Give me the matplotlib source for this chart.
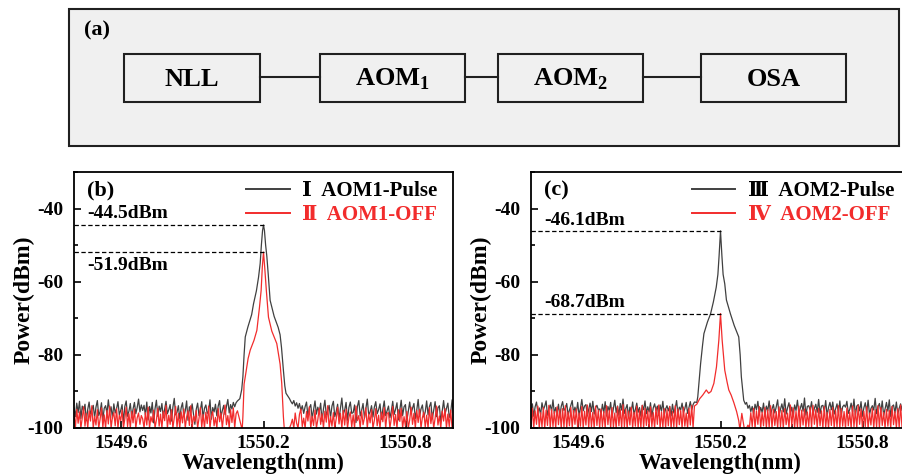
import numpy as np
import matplotlib
matplotlib.use("Agg")
import matplotlib.pyplot as plt
import matplotlib.ticker as ticker
from matplotlib.patches import Rectangle
from matplotlib.lines import Line2D

plt.rcParams["font.family"] = ["Liberation Serif", "DejaVu Serif"]
plt.rcParams["font.weight"] = "bold"
plt.rcParams["axes.labelweight"] = "bold"
plt.rcParams["axes.unicode_minus"] = False
plt.rcParams["mathtext.fontset"] = "custom"
plt.rcParams["mathtext.rm"] = "Liberation Serif:bold"
plt.rcParams["mathtext.bf"] = "Liberation Serif:bold"

BLACK = "#404040"
RED = "#f22c2c"

# OSA traces: noise floor on an even sample grid either side of the line,
# plus hand-read points across the peak itself
LEFT_SPAN = (1549.40, 1550.09)
RIGHT_SPAN = (1550.31, 1551.02)

# ---- (b) AOM1 ----
b_pulse_left = [
    -94.5, -96.9, -93.2, -95.8, -92.7, -97.4, -94.0, -95.3, -93.5, -98.0,
    -94.9, -92.9, -96.2, -95.0, -93.8, -97.1, -94.3, -92.5, -96.6, -95.5,
    -93.1, -97.8, -94.6, -93.9, -96.0, -92.3, -95.7, -94.2, -97.3, -93.4,
    -95.9, -94.7, -92.8, -96.4, -95.2, -93.6, -98.4, -94.1, -92.6, -96.8,
    -95.4, -93.3, -97.0, -94.8, -93.0, -96.1, -94.4, -92.1, -95.6, -93.7,
    -95.2, -93.8, -96.5, -92.9, -97.8, -94.1, -95.9, -93.0, -98.6, -94.7,
    -92.4, -96.8, -94.0, -95.5, -93.3, -97.2, -94.8, -92.7, -96.1, -95.0,
    -93.6, -98.1, -94.3, -91.9, -96.4, -95.7, -93.9, -97.5, -94.5, -93.1,
    -96.9, -95.3, -92.6, -97.9, -94.2, -95.8, -93.4, -96.2, -99.0, -94.9,
    -93.2, -96.6, -95.1, -92.8, -97.3, -94.6, -93.7, -96.0, -95.4, -92.3,
    -97.6, -94.4, -95.6, -93.5, -96.7, -94.0, -92.5, -97.0, -95.2, -93.8,
    -96.3, -94.1, -92.2, -95.9, -93.6, -94.8, -93.0, -94.2, -93.1, -92.6]
b_pulse_peak_wl = [1550.100, 1550.108, 1550.113, 1550.118, 1550.123, 1550.134,
                   1550.150, 1550.158, 1550.170, 1550.179, 1550.186, 1550.191,
                   1550.196, 1550.200, 1550.204, 1550.209, 1550.214, 1550.220,
                   1550.228, 1550.245, 1550.262, 1550.270, 1550.276, 1550.281,
                   1550.284, 1550.290, 1550.295, 1550.305]
b_pulse_peak = [-92.0, -89.5, -86.0, -80.0, -75.1, -72.4, -69.0, -66.0, -62.5,
                -58.8, -55.0, -50.0, -46.0, -44.5, -46.0, -50.0, -53.0, -58.0,
                -65.1, -69.5, -72.5, -74.5, -78.0, -82.0, -84.2, -88.5, -90.5,
                -91.5]
b_pulse_right = [
    -92.0, -92.8, -93.4, -92.5, -94.0, -93.1, -94.6, -93.3, -95.2, -93.9,
    -96.0, -94.2, -92.9, -96.8, -94.5, -93.6, -97.4, -95.0, -92.6, -96.2,
    -94.3, -95.7, -93.2, -98.2, -94.8, -92.4, -96.5, -95.3, -93.8, -97.1,
    -94.0, -92.7, -96.9, -95.5, -93.5, -97.7, -94.6, -91.8, -96.3, -95.1,
    -93.0, -97.9, -94.4, -92.9, -96.0, -95.8, -93.7, -98.5, -94.1, -92.5,
    -96.7, -95.2, -93.3, -97.3, -94.7, -92.1, -96.4, -95.6, -93.9, -97.0,
    -94.3, -92.8, -96.1, -95.0, -93.4, -97.6, -94.9, -92.6, -96.6, -95.3,
    -94.0, -97.2, -95.4, -92.7, -96.3, -94.9, -93.1, -97.8, -95.0, -92.4,
    -96.6, -94.2, -93.6, -98.0, -95.5, -92.9, -96.1, -94.6, -93.3, -97.4,
    -95.1, -92.2, -96.8, -94.8, -93.7, -97.0, -95.6, -92.6, -96.4, -94.1,
    -93.0, -97.5, -95.2, -92.8, -96.9, -94.5, -93.9, -98.3, -95.3, -92.5,
    -96.2, -94.7, -93.2, -97.1, -95.8, -92.3, -96.5, -94.4, -93.5, -97.7]

b_off_left = [
    -96.2, -100.0, -94.9, -98.7, -95.6, -100.0, -97.3, -94.2, -99.5, -96.0,
    -100.0, -95.3, -98.1, -93.9, -100.0, -96.8, -99.2, -95.0, -100.0, -97.6,
    -94.5, -99.8, -96.4, -100.0, -95.2, -98.9, -94.0, -100.0, -97.0, -95.8,
    -99.4, -94.7, -100.0, -96.5, -98.0, -95.1, -100.0, -97.5, -94.3, -99.6,
    -96.1, -100.0, -95.5, -98.6, -94.8, -100.0, -97.2, -95.9, -99.0, -96.6,
    -97.5, -100.0, -95.8, -99.2, -94.3, -100.0, -96.9, -98.4, -95.1, -100.0,
    -97.8, -94.6, -99.5, -96.2, -100.0, -95.4, -98.0, -93.8, -100.0, -96.5,
    -99.0, -95.0, -100.0, -97.2, -94.1, -99.7, -96.0, -100.0, -95.6, -98.6,
    -94.8, -100.0, -97.0, -95.3, -99.3, -93.9, -100.0, -96.7, -98.2, -95.2,
    -100.0, -97.4, -94.4, -99.8, -96.3, -100.0, -95.7, -98.8, -94.0, -100.0,
    -96.8, -95.5, -99.4, -97.1, -100.0, -94.7, -98.3, -95.9, -100.0, -96.4,
    -93.7, -99.1, -96.6, -100.0, -95.0, -98.5, -94.5, -100.0, -96.1, -95.3]
b_off_peak_wl = [1550.110, 1550.113, 1550.118, 1550.123, 1550.135, 1550.144,
                 1550.160, 1550.172, 1550.183, 1550.190, 1550.195, 1550.200,
                 1550.205, 1550.212, 1550.221, 1550.235, 1550.256, 1550.270,
                 1550.277, 1550.284, 1550.288]
b_off_peak = [-100.5, -96.9, -88.0, -86.0, -81.0, -78.7, -76.0, -73.3, -67.0,
              -62.4, -56.0, -51.9, -56.0, -62.4, -69.7, -73.5, -76.9, -82.5,
              -87.8, -96.9, -100.5]
b_off_right = [
    -100.0, -99.0, -97.6, -100.0, -95.9, -98.7, -100.0, -96.3, -94.8, -99.6,
    -97.3, -100.0, -95.5, -98.1, -94.2, -100.0, -96.8, -99.3, -95.1, -100.0,
    -97.7, -94.6, -99.0, -96.1, -100.0, -95.4, -98.4, -93.9, -100.0, -96.9,
    -99.5, -95.8, -100.0, -97.5, -94.3, -98.9, -96.0, -100.0, -95.2, -99.2,
    -94.9, -100.0, -97.1, -95.6, -99.7, -96.4, -100.0, -94.0, -98.0, -96.6,
    -100.0, -95.3, -99.1, -97.2, -94.5, -100.0, -96.2, -98.6, -95.0, -100.0,
    -97.9, -94.7, -99.4, -96.5, -100.0, -95.7, -98.3, -94.4, -100.0, -96.0,
    -95.8, -100.0, -97.4, -94.1, -99.3, -96.3, -100.0, -95.0, -98.2, -94.6,
    -100.0, -96.9, -99.5, -95.5, -100.0, -97.8, -94.3, -99.0, -96.0, -100.0,
    -95.2, -98.5, -94.9, -100.0, -97.1, -95.7, -99.7, -96.5, -100.0, -94.4,
    -98.8, -95.9, -100.0, -97.3, -94.0, -99.2, -96.7, -100.0, -95.4, -98.1,
    -94.7, -100.0, -96.2, -99.6, -95.1, -100.0, -97.6, -94.8, -99.1, -96.4]

# ---- (c) AOM2 ----
c_pulse_left = [
    -95.6, -93.4, -96.8, -94.2, -92.9, -95.7, -94.5, -96.3, -93.1, -95.0,
    -94.0, -92.6, -96.5, -94.8, -93.7, -95.4, -92.3, -96.1, -94.4, -95.9,
    -93.5, -96.9, -94.1, -92.8, -95.2, -94.7, -93.3, -96.4, -95.1, -93.9,
    -92.5, -96.0, -94.3, -95.8, -93.0, -96.6, -94.6, -92.2, -95.3, -94.0,
    -93.6, -96.7, -94.9, -93.2, -95.5, -92.7, -96.2, -94.5, -93.8, -95.0,
    -94.8, -96.2, -93.5, -95.9, -92.8, -96.7, -94.1, -95.3, -93.0, -97.1,
    -94.6, -92.4, -95.8, -94.0, -96.5, -93.3, -95.1, -92.1, -96.0, -94.7,
    -93.6, -97.0, -94.3, -95.5, -92.9, -96.3, -94.9, -93.2, -95.7, -94.4,
    -96.8, -93.8, -95.0, -92.6, -96.1, -94.2, -95.6, -93.1, -96.9, -94.5,
    -93.4, -95.2, -94.0, -96.6, -93.7, -95.4, -92.7, -96.4, -94.8, -93.9,
    -95.3, -94.1, -96.7, -93.5, -95.9, -94.6, -92.5, -96.2, -94.3, -95.0,
    -93.2, -95.8, -94.7, -93.0, -96.0, -94.4, -92.8, -95.1, -93.6, -92.9]
c_pulse_peak_wl = [1550.100, 1550.104, 1550.110, 1550.116, 1550.124, 1550.130,
                   1550.145, 1550.158, 1550.170, 1550.182, 1550.189, 1550.194,
                   1550.200, 1550.206, 1550.211, 1550.218, 1550.225, 1550.242,
                   1550.258, 1550.277, 1550.283, 1550.288, 1550.294, 1550.298,
                   1550.305]
c_pulse_peak = [-93.0, -91.5, -87.0, -82.4, -77.5, -74.2, -71.0, -68.8, -65.5,
                -61.5, -58.0, -53.0, -46.1, -53.0, -58.0, -60.6, -65.0, -68.8,
                -72.0, -75.1, -80.0, -86.0, -90.0, -92.4, -93.5]
c_pulse_right = [
    -93.0, -94.6, -93.8, -95.5, -94.1, -96.3, -93.5, -95.0, -92.7, -96.1,
    -94.4, -95.7, -93.2, -96.8, -94.0, -95.3, -92.6, -96.4, -94.8, -93.6,
    -95.9, -94.2, -92.3, -96.6, -94.9, -93.4, -95.6, -92.0, -96.2, -94.5,
    -93.1, -95.8, -94.3, -96.9, -93.7, -95.2, -92.4, -96.0, -94.7, -93.3,
    -95.4, -91.8, -96.5, -94.1, -93.9, -95.1, -92.8, -96.3, -94.6, -93.5,
    -95.7, -92.2, -96.1, -94.0, -93.8, -95.5, -92.5, -96.7, -94.4, -93.0,
    -95.0, -92.9, -96.2, -94.8, -93.4, -95.9, -92.6, -96.4, -94.2, -93.7,
    -94.3, -92.7, -96.0, -94.9, -93.2, -95.6, -92.1, -96.5, -94.0, -93.6,
    -95.3, -92.8, -96.8, -94.5, -93.1, -95.8, -92.4, -96.3, -94.7, -93.9,
    -95.1, -91.9, -96.1, -94.2, -93.3, -95.7, -92.6, -96.6, -94.8, -93.0,
    -95.4, -92.3, -96.9, -94.1, -93.7, -95.9, -92.9, -96.2, -94.6, -93.4,
    -95.2, -92.0, -96.4, -94.4, -93.5, -95.5, -92.5, -96.7, -94.0, -93.8]

c_off_left = [
    -99.5, -94.6, -100.0, -95.3, -99.0, -94.0, -100.0, -95.8, -99.7, -94.4,
    -100.0, -95.1, -99.3, -93.8, -100.0, -94.9, -99.6, -95.5, -100.0, -94.2,
    -99.1, -95.0, -100.0, -94.7, -99.8, -93.9, -100.0, -95.6, -99.4, -94.3,
    -100.0, -95.2, -99.0, -94.8, -100.0, -95.9, -99.5, -94.1, -100.0, -95.4,
    -99.2, -93.7, -100.0, -94.5, -99.7, -95.7, -100.0, -94.0, -99.3, -95.1,
    -100.0, -94.8, -99.6, -95.5, -100.0, -93.9, -99.1, -95.2, -100.0, -94.4,
    -99.8, -95.9, -100.0, -94.1, -99.4, -95.0, -100.0, -93.6, -99.7, -94.9,
    -100.0, -95.4, -99.2, -94.3, -100.0, -95.7, -99.5, -94.0, -100.0, -95.1,
    -99.9, -93.8, -100.0, -94.6, -99.3, -95.3, -100.0, -94.2, -99.6, -95.8,
    -100.0, -94.5, -99.0, -93.7, -100.0, -95.6, -99.8, -94.7, -100.0, -95.0,
    -99.4, -94.1, -100.0, -95.5, -99.7, -93.9, -100.0, -94.8, -99.1, -95.2,
    -100.0, -94.3, -99.5, -95.9, -100.0, -94.6, -99.2, -93.8, -100.0, -94.0]
c_off_peak_wl = [1550.100, 1550.112, 1550.125, 1550.140, 1550.150, 1550.160,
                 1550.172, 1550.183, 1550.193, 1550.200, 1550.207, 1550.218,
                 1550.228, 1550.235, 1550.245, 1550.256, 1550.268, 1550.277,
                 1550.282, 1550.290, 1550.300]
c_off_peak = [-93.5, -92.0, -91.0, -89.6, -90.5, -90.0, -87.8, -83.3, -76.0,
              -68.7, -76.0, -84.2, -87.5, -89.6, -91.0, -93.0, -95.5, -98.0,
              -100.5, -96.0, -100.0]
c_off_right = [
    -100.0, -99.2, -100.0, -95.8, -99.6, -94.6, -100.0, -95.3, -99.0, -94.1,
    -100.0, -95.7, -99.4, -94.4, -100.0, -95.0, -99.8, -93.9, -100.0, -94.9,
    -99.3, -95.5, -100.0, -94.2, -99.7, -95.2, -100.0, -94.7, -99.1, -95.9,
    -100.0, -93.7, -99.5, -94.5, -100.0, -95.4, -99.9, -94.0, -100.0, -95.1,
    -99.2, -94.8, -100.0, -95.6, -99.6, -94.3, -100.0, -93.8, -99.0, -95.0,
    -100.0, -94.6, -99.4, -95.3, -100.0, -94.1, -99.8, -95.7, -100.0, -94.9,
    -99.3, -94.4, -100.0, -95.2, -99.7, -93.9, -100.0, -94.7, -99.5, -95.5,
    -100.0, -94.5, -99.4, -95.6, -100.0, -94.0, -99.7, -95.1, -100.0, -93.8,
    -99.0, -94.8, -100.0, -95.4, -99.6, -94.2, -100.0, -95.9, -99.2, -94.6,
    -100.0, -95.0, -99.8, -93.9, -100.0, -94.4, -99.3, -95.7, -100.0, -94.9,
    -99.5, -95.2, -100.0, -94.1, -99.1, -95.5, -100.0, -94.7, -99.9, -93.7,
    -100.0, -95.3, -99.4, -94.3, -100.0, -95.8, -99.0, -94.6, -100.0, -95.0]

# marked peak levels (dBm) and peak wavelength
PEAK_WL = 1550.2
b_levels = [-44.5, -51.9]
c_levels = [-46.1, -68.7]

b_labels = ["\u2160  AOM1-Pulse", "\u2161  AOM1-OFF"]
c_labels = ["\u2162  AOM2-Pulse", "\u2163  AOM2-OFF"]

XLIM = (1549.40, 1551.0)
YLIM = (-100, -30)


def trace(left, peak_wl, peak, right):
    xl = np.linspace(*LEFT_SPAN, len(left))
    xr = np.linspace(*RIGHT_SPAN, len(right))
    return (np.concatenate([xl, peak_wl, xr]),
            np.concatenate([left, peak, right]))


def spectrum_panel(ax, pulse, off, levels, labels, tag, text_pos):
    x, y = trace(*pulse)
    ax.plot(x, y, color=BLACK, lw=0.9)
    x, y = trace(*off)
    ax.plot(x, y, color=RED, lw=0.9)

    for lvl, ty in zip(levels, text_pos):
        ax.plot([XLIM[0], PEAK_WL], [lvl, lvl], color="black", lw=0.9,
                ls=(0, (3.5, 2)))
        ax.text(1549.458, ty, f"{lvl:.1f}dBm", fontsize=14, va="center",
                ha="left", fontweight="bold")

    ax.text(1549.455, -35.0, tag, fontsize=16, va="center", ha="left",
            fontweight="bold")

    handles = [Line2D([], [], color=BLACK, lw=1.4),
               Line2D([], [], color=RED, lw=1.4)]
    leg = ax.legend(handles, labels, loc="upper right", frameon=False,
                    prop={"size": 15, "weight": "bold"},
                    handlelength=2.1, handletextpad=0.6,
                    borderaxespad=0.35, labelspacing=0.2,
                    bbox_to_anchor=(1.0, 1.025))
    for t, c in zip(leg.get_texts(), ["black", RED]):
        t.set_color(c)

    ax.set_xlim(*XLIM)
    ax.set_ylim(*YLIM)
    ax.xaxis.set_major_locator(ticker.FixedLocator([1549.6, 1550.2, 1550.8]))
    ax.xaxis.set_minor_locator(ticker.FixedLocator([1549.9, 1550.5]))
    ax.xaxis.set_major_formatter(ticker.FormatStrFormatter("%.1f"))
    ax.yaxis.set_major_locator(ticker.MultipleLocator(20))
    ax.yaxis.set_minor_locator(ticker.MultipleLocator(10))
    ax.tick_params(which="both", direction="in", labelsize=14, width=1.2)
    ax.tick_params(axis="x", pad=5)
    ax.tick_params(axis="y", pad=8)
    ax.tick_params(which="major", length=5)
    ax.tick_params(which="minor", length=3)
    for lab in ax.get_xticklabels() + ax.get_yticklabels():
        lab.set_fontweight("bold")
    for s in ax.spines.values():
        s.set_linewidth(1.3)
    ax.set_xlabel("Wavelength(nm)", fontsize=16.5)
    ax.set_ylabel("Power(dBm)", fontsize=17)
    ax.xaxis.set_label_coords(0.5, -0.095)
    ax.yaxis.set_label_coords(-0.104, 0.5)


fig = plt.figure(figsize=(9.02, 4.74), dpi=100)

# --- (a) block diagram, drawn in pixel coordinates ---
ax_a = fig.add_axes([0, 0, 1, 1])
ax_a.set_xlim(0, 902)
ax_a.set_ylim(474, 0)
ax_a.axis("off")
ax_a.add_patch(Rectangle((69, 9), 830, 137, facecolor="#f0f0f0",
                         edgecolor="#202020", lw=1.5))
ax_a.text(84, 30, "(a)", fontsize=16, va="center", ha="left",
          fontweight="bold")
blocks = [("NLL", 124, 260), ("AOM$_\\mathbf{1}$", 320, 465),
          ("AOM$_\\mathbf{2}$", 498, 643), ("OSA", 701, 846)]
for i, (name, x0, x1) in enumerate(blocks):
    ax_a.add_patch(Rectangle((x0, 54), x1 - x0, 48, facecolor="#f0f0f0",
                             edgecolor="#202020", lw=1.5))
    ax_a.text((x0 + x1) / 2, 79, name, fontsize=19, va="center",
              ha="center", fontweight="bold")
    if i + 1 < len(blocks):
        ax_a.plot([x1, blocks[i + 1][1]], [77, 77], color="#202020", lw=1.5)

# --- (b) and (c) spectra ---
ax_b = fig.add_axes([74 / 902, 46 / 474, 379 / 902, 256 / 474])
spectrum_panel(ax_b,
               (b_pulse_left, b_pulse_peak_wl, b_pulse_peak, b_pulse_right),
               (b_off_left, b_off_peak_wl, b_off_peak, b_off_right),
               b_levels, b_labels, "(b)", [-41.3, -55.7])

ax_c = fig.add_axes([531 / 902, 46 / 474, 379 / 902, 256 / 474])
spectrum_panel(ax_c,
               (c_pulse_left, c_pulse_peak_wl, c_pulse_peak, c_pulse_right),
               (c_off_left, c_off_peak_wl, c_off_peak, c_off_right),
               c_levels, c_labels, "(c)", [-43.2, -65.6])

fig.savefig("out.png", dpi=100)
